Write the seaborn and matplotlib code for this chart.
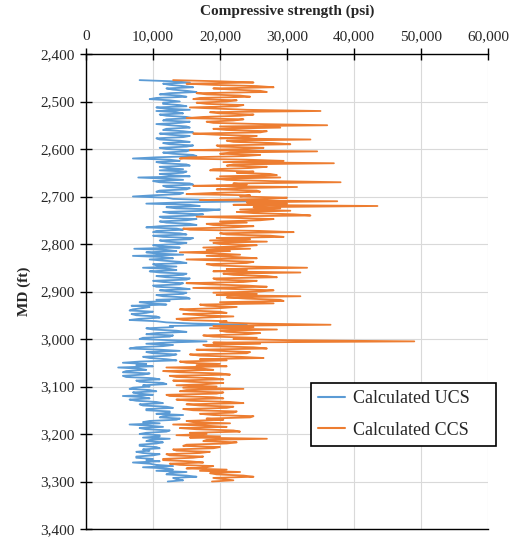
import numpy as np
import pandas as pd
import matplotlib
matplotlib.use("Agg")
import matplotlib.pyplot as plt
from matplotlib.ticker import FuncFormatter
import seaborn as sns

# ---- data, one value every 2.5 ft ----
depth_start = 2455
depth_step = 2.5
ucs = [
    8000, 13000, 15500, 11500, 12500, 14500, 16000, 12000, 13000, 15000, 16500, 12500, 11000, 14000, 15000, 10500, 9500, 12500, 14000, 11500,
    11500, 14000, 15000, 10500, 12000, 15500, 10500, 13500, 14500, 11000, 12000, 15000, 16000, 12000, 11500, 15500, 14000, 10500, 12500, 15000,
    15500, 12000, 11500, 14500, 16000, 11000, 12500, 15500, 14500, 10500, 11000, 14000, 15500, 11500, 12500, 16000, 15000, 11000, 12000, 15500,
    15000, 11500, 13000, 16000, 16500, 10500, 7000, 12500, 14000, 10500, 11500, 15000, 15500, 11000, 12000, 14500, 11000, 15000, 14500, 11000,
    12500, 15500, 7800, 12000, 14500, 10000, 11000, 15500, 16000, 11500, 12000, 15500, 15000, 11000, 10500, 14500, 14000, 10000, 7000, 12000,
    13000, 19000, 25000, 14000, 9000, 15500, 17000, 12000, 13500, 20000, 18000, 11500, 12500, 17500, 16000, 11000, 11500, 16500, 15000, 11000,
    12000, 15500, 16500, 11000, 9000, 13500, 14500, 10500, 10000, 14000, 15000, 10000, 11500, 16000, 15500, 11000, 12000, 15000, 14000, 10000,
    11000, 14000, 7200, 12000, 13500, 9000, 10500, 14500, 7000, 11500, 13000, 9500, 11500, 14000, 15000, 10000, 10500, 13500, 8500, 12500,
    13500, 9500, 11000, 15000, 14500, 10500, 12000, 15500, 15000, 10000, 11500, 14500, 14000, 10000, 10500, 14000, 15500, 11000, 12500, 15000,
    14500, 10500, 11500, 15000, 15500, 10500, 12500, 8000, 9500, 12000, 6800, 9500, 8500, 7000, 6500, 10000, 9000, 6800, 7500, 10500,
    11000, 8000, 6500, 10500, 12000, 16000, 24000, 12500, 13000, 9000, 10000, 13500, 15000, 10500, 9000, 13000, 12500, 8500, 8000, 12500,
    18000, 12000, 9000, 13000, 11500, 7500, 6500, 11000, 14000, 9000, 10000, 13500, 12500, 8500, 9500, 12000, 13500, 8000, 5500, 9000,
    7500, 10000, 4800, 8000, 9000, 6000, 5500, 9500, 8500, 5500, 6000, 10000, 11000, 7500, 8000, 11500, 12000, 8500, 9500, 7000,
    6500, 9500, 10500, 7000, 8000, 10000, 5500, 8500, 9500, 6500, 7500, 10500, 11500, 8000, 8500, 12000, 13000, 9000, 9000, 12500,
    12500, 10500, 14500, 11500, 11000, 14000, 13500, 9500, 8500, 11000, 6500, 9500, 11500, 8000, 9000, 12500, 12000, 9000, 8000, 11000,
    11000, 8500, 12500, 9500, 9000, 11500, 10500, 8000, 8000, 10500, 11000, 8500, 9500, 7500, 8500, 11000, 10000, 7500, 7500, 10000,
    9000, 11000, 7000, 9500, 10500, 13000, 8500, 12000, 13000, 10500, 15000, 12500, 12000, 15000, 16500, 13000, 13500, 14500, 12200,
]
ccs = [
    13000, 20000, 25000, 15000, 19000, 25500, 28000, 19000, 22000, 26000, 27000, 16500, 18000, 23000, 24500, 17000, 16000, 22500, 21000, 16500,
    18000, 23500, 22500, 15500, 19500, 24000, 35000, 18500, 20000, 25000, 23000, 17500, 15000, 23500, 22000, 18000, 19000, 26000, 36000, 20000,
    29000, 19000, 21000, 27000, 26000, 16000, 19500, 25500, 24000, 20000, 33500, 21000, 22000, 28000, 30500, 19500, 20000, 26500, 24000, 15500,
    34500, 21500, 20000, 26000, 23500, 15500, 14000, 24000, 29500, 20500, 37000, 22000, 21000, 27000, 24500, 19000, 18500, 25000, 22500, 27500,
    28500, 20000, 29000, 19500, 21000, 27500, 38000, 22000, 24000, 16000, 31500, 22500, 19500, 25500, 26000, 19000, 15000, 24500, 23000, 30000,
    27000, 17000, 37500, 24000, 30000, 22000, 43500, 25000, 29000, 23000, 30500, 22500, 25000, 31000, 33500, 16500, 22000, 28000, 26000, 20000,
    24000, 18000, 19000, 25000, 22000, 14500, 15500, 26000, 31000, 20000, 21000, 27500, 29500, 19500, 24500, 18500, 27000, 19000, 20000, 25500,
    23000, 17500, 24500, 18000, 21500, 14000, 19500, 23000, 18000, 22500, 25500, 15000, 20000, 25000, 24000, 18000, 19000, 24500, 33000, 21000,
    24000, 19000, 32000, 20500, 22000, 27000, 28500, 19000, 19500, 25500, 23500, 15000, 18500, 24000, 27000, 16000, 22500, 28000, 26000, 19000,
    25500, 19500, 32000, 21000, 24000, 29000, 29500, 20000, 28000, 17000, 18000, 22500, 20000, 14000, 15500, 20000, 21000, 14500, 17000, 22000,
    17500, 13500, 14500, 21000, 20000, 25000, 36500, 19000, 25000, 18500, 28500, 20000, 21000, 26000, 24000, 17500, 19000, 25500, 22000, 30000,
    49000, 19000, 26000, 17500, 18000, 25000, 27000, 16500, 20000, 24500, 24000, 15500, 17000, 23000, 26500, 17000, 21000, 14000, 15000, 20000,
    16500, 21000, 12000, 17500, 19000, 11500, 14000, 20000, 21500, 12500, 13500, 19000, 20500, 13000, 15500, 20500, 18000, 13500, 19500, 14500,
    23500, 15000, 14000, 20500, 19500, 12000, 12500, 19000, 20500, 13500, 15500, 21500, 23500, 15000, 17000, 22000, 21000, 14500, 16000, 22500,
    22000, 17000, 19000, 25000, 24500, 18000, 20500, 15000, 16000, 21500, 13000, 18000, 21000, 14000, 16500, 22000, 23000, 15500, 18000, 13500,
    20000, 15500, 27000, 18000, 17500, 22500, 21000, 15000, 14500, 20000, 19000, 13000, 13500, 18500, 17000, 12000, 12500, 17500, 16000, 11500,
    11500, 15500, 17500, 12500, 14000, 19000, 18000, 15000, 21000, 17000, 23000, 18500, 19500, 23500, 25000, 19000, 20500, 22000, 18800,
]
depth = depth_start + depth_step * np.arange(len(ucs))
series_names = ["Calculated UCS", "Calculated CCS"]
x_ticks = [0, 10000, 20000, 30000, 40000, 50000, 60000]
y_ticks = [2400, 2500, 2600, 2700, 2800, 2900, 3000, 3100, 3200, 3300, 3400]

df = pd.DataFrame({
    "MD": np.concatenate([depth, depth]),
    "value": np.concatenate([ucs, ccs]),
    "series": [series_names[0]] * len(ucs) + [series_names[1]] * len(ccs),
})

# ---- style ----
sns.set_theme(style="white")
plt.rcParams["font.family"] = ["Liberation Serif", "DejaVu Serif"]

fig = plt.figure(figsize=(5.11, 5.40), dpi=100)
ax = fig.add_axes([86 / 511, 1 - 529 / 540, (488 - 86) / 511, (529 - 54) / 540])

palette = {series_names[0]: "#5B9BD5", series_names[1]: "#ED7D31"}
sns.lineplot(data=df, x="value", y="MD", hue="series", orient="y",
             estimator=None, sort=True, palette=palette, linewidth=1.3,
             ax=ax, legend=True)

ax.set_xlim(0, 60000)
ax.set_ylim(3400, 2400)
ax.set_xticks(x_ticks)
ax.set_yticks(y_ticks)
ax.xaxis.set_major_formatter(FuncFormatter(lambda v, p: f"{int(v):,}"))
ax.yaxis.set_major_formatter(FuncFormatter(lambda v, p: f"{int(v):,}"))
ax.xaxis.tick_top()
ax.xaxis.set_label_position("top")

ax.grid(True, color="#D9D9D9", linewidth=0.8)
ax.set_axisbelow(True)

ax.spines["right"].set_visible(False)
for s in ["left", "top", "bottom"]:
    ax.spines[s].set_color("black")
    ax.spines[s].set_linewidth(1.0)

ax.tick_params(axis="both", which="major", direction="inout", length=8,
               width=1.0, color="black", labelsize=11, labelcolor="#262626")
ax.tick_params(axis="x", top=True, bottom=False, pad=4)
ax.tick_params(axis="y", left=True, right=False, pad=4)

ax.set_xlabel("Compressive strength (psi)", fontsize=11, fontweight="bold", labelpad=11)
ax.set_ylabel("MD (ft)", fontsize=11, fontweight="bold", labelpad=7)

handles, labels = ax.get_legend_handles_labels()
leg = ax.legend(handles, labels, loc="lower left",
                bbox_to_anchor=(0.56, 0.175, 0.46, 0.137), mode="expand",
                fontsize=13, frameon=True, fancybox=False, framealpha=1,
                edgecolor="black", borderpad=0.4, labelspacing=0.8,
                handlelength=1.5, handletextpad=0.4, borderaxespad=0)
leg.get_frame().set_linewidth(1.2)
for line in leg.get_lines():
    line.set_linewidth(1.5)

fig.savefig("out.png", dpi=100, facecolor="white")
